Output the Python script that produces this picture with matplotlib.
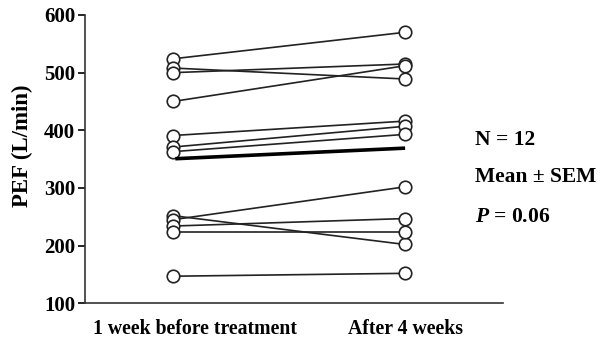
import numpy as np
import matplotlib
matplotlib.use("Agg")
import matplotlib.pyplot as plt
import matplotlib.transforms as mtransforms

plt.rcParams['font.family'] = ['Liberation Serif', 'DejaVu Serif']
plt.rcParams['font.weight'] = 'bold'
plt.rcParams['mathtext.fontset'] = 'custom'
plt.rcParams['mathtext.it'] = 'Liberation Serif:italic:bold'

# PEF per patient (L/min)
before = [524, 508, 500, 450, 391, 371, 363, 252, 245, 234, 224, 147]
after = [570, 489, 515, 512, 416, 407, 393, 202, 302, 247, 224, 152]
groups = ["1 week before treatment", "After 4 weeks"]
yticks = [100, 200, 300, 400, 500, 600]

fig = plt.figure(figsize=(6.05, 3.43), dpi=100)
ax = fig.add_axes([0.1405, 0.1157, 0.691, 0.8406])

for b, a in zip(before, after):
    ax.plot([0, 1], [b, a], color='#222222', lw=1.2, zorder=2)
    ax.plot([0, 1], [b, a], ls='none', marker='o', ms=9, mfc='white',
            mec='#222222', mew=1.2, zorder=3)

# mean line
ax.plot([0.01, 1], [np.mean(before), np.mean(after)], color='black', lw=2.6,
        solid_capstyle='butt', zorder=4)

ax.set_xlim(-0.379, 1.422)
ax.set_ylim(100, 600)
ax.set_yticks(yticks)
ax.set_yticklabels([str(t) for t in yticks], fontsize=15, fontweight='bold')
ax.tick_params(axis='y', direction='out', length=5, width=1.2, pad=2)
ax.set_xticks([0, 1])
ax.set_xticklabels(groups, fontsize=14.2, fontweight='bold')
ax.tick_params(axis='x', length=0, pad=11)
lbl = ax.get_xticklabels()[0]
lbl.set_transform(lbl.get_transform() + mtransforms.ScaledTranslation(0.22, 0, fig.dpi_scale_trans))

for s in ['top', 'right']:
    ax.spines[s].set_visible(False)
for s in ['left', 'bottom']:
    ax.spines[s].set_linewidth(1.2)
    ax.spines[s].set_color('#333333')

ax.set_ylabel("PEF (L/min)", fontsize=16.5, fontweight='bold')
ax.yaxis.set_label_coords(-0.125, 0.546)

ax.text(1.30, 383, "N = 12", fontsize=15.5, fontweight='bold', va='center')
ax.text(1.30, 319, "Mean \u00b1 SEM", fontsize=15.5, fontweight='bold', va='center')
ax.text(1.30, 250, "$P$ = 0.06", fontsize=15.5, fontweight='bold', va='center')

fig.savefig("out.png", dpi=100)
